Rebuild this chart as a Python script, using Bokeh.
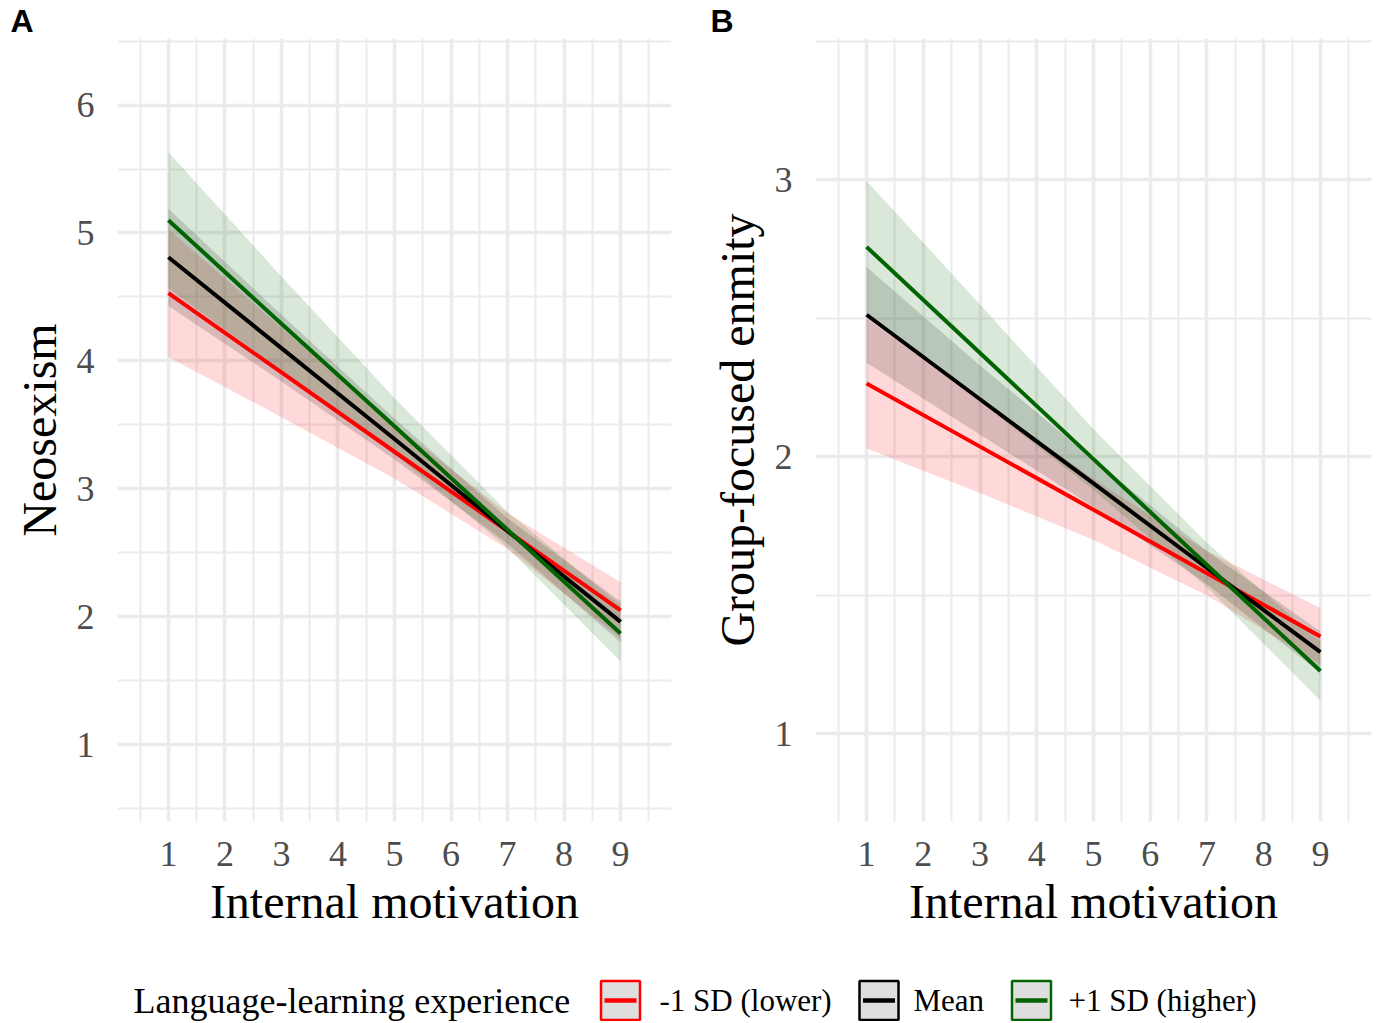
from bokeh.plotting import figure
from bokeh.models import Range1d, FixedTicker
from bokeh.layouts import column, row
from bokeh.embed import file_html
from bokeh.resources import INLINE
from bokeh.core.properties import value

# ---------------- data ----------------
x_pts = [1, 3, 5, 7, 9]
x_ticks = [1, 2, 3, 4, 5, 6, 7, 8, 9]
x_minor = [0.5, 1.5, 2.5, 3.5, 4.5, 5.5, 6.5, 7.5, 8.5, 9.5]

group_labels = ["-1 SD (lower)", "Mean", "+1 SD (higher)"]
group_colors = ["#FF0000", "#000000", "#006400"]
legend_title = "Language-learning experience"
x_title = "Internal motivation"

# Panel A: Neosexism
a_y_ticks = [1, 2, 3, 4, 5, 6]
a_y_minor = [0.5, 1.5, 2.5, 3.5, 4.5, 5.5, 6.5]
a_fit_low = [4.53, 3.91, 3.29, 2.67, 2.05]
a_lo_low = [4.03, 3.56, 3.08, 2.53, 1.83]
a_hi_low = [5.03, 4.26, 3.50, 2.81, 2.27]
a_fit_mean = [4.81, 4.10, 3.39, 2.67, 1.96]
a_lo_mean = [4.43, 3.84, 3.23, 2.57, 1.80]
a_hi_mean = [5.19, 4.36, 3.55, 2.77, 2.12]
a_fit_high = [5.10, 4.29, 3.49, 2.68, 1.87]
a_lo_high = [4.57, 3.92, 3.27, 2.54, 1.65]
a_hi_high = [5.63, 4.66, 3.71, 2.82, 2.09]

# Panel B: Group-focused enmity
b_y_ticks = [1, 2, 3]
b_y_minor = [0.5, 1.5, 2.5, 3.5]
b_fit_low = [2.265, 2.037, 1.809, 1.580, 1.352]
b_lo_low = [2.03, 1.87, 1.70, 1.50, 1.25]
b_hi_low = [2.50, 2.21, 1.92, 1.66, 1.455]
b_fit_mean = [2.513, 2.208, 1.904, 1.599, 1.295]
b_lo_mean = [2.34, 2.08, 1.82, 1.54, 1.22]
b_hi_mean = [2.685, 2.33, 1.99, 1.66, 1.37]
b_fit_high = [2.758, 2.375, 1.992, 1.610, 1.227]
b_lo_high = [2.52, 2.20, 1.88, 1.53, 1.12]
b_hi_high = [2.996, 2.55, 2.10, 1.69, 1.335]

SERIF = "Liberation Serif"
GRID = "#EBEBEB"
FIG_H = 953
B_BOT = 132
X_RANGE = (0.1, 9.9)


def make_panel(tag, ylab, yr, yticks, yminor, fits, los, his, width, bl, br, tag_left):
    p = figure(width=width, height=FIG_H, output_backend="svg", toolbar_location=None,
               x_range=Range1d(*X_RANGE), y_range=Range1d(*yr),
               min_border_left=bl, min_border_right=br, min_border_top=0,
               min_border_bottom=B_BOT, title=tag)
    # panel tag as a left-aligned title shifted into the left margin
    p.title.align = "left"
    p.title.offset = -(bl - tag_left)
    p.title.standoff = 0
    p.title.text_font = "Liberation Sans"
    p.title.text_font_style = "bold"
    p.title.text_font_size = "32px"
    p.title.text_color = "black"
    p.outline_line_color = None
    p.background_fill_color = "white"
    p.border_fill_color = "white"
    p.xaxis.ticker = FixedTicker(ticks=x_ticks, minor_ticks=x_minor)
    p.yaxis.ticker = FixedTicker(ticks=yticks, minor_ticks=yminor)
    for ax in (p.xaxis, p.yaxis):
        ax.axis_line_color = None
        ax.major_tick_line_color = None
        ax.minor_tick_line_color = None
        ax.major_tick_out = 0
        ax.major_tick_in = 0
        ax.minor_tick_out = 0
        ax.major_label_text_font = SERIF
        ax.major_label_text_font_size = "36px"
        ax.major_label_text_color = "#4D4D4D"
        ax.axis_label_text_font = SERIF
        ax.axis_label_text_font_size = "48px"
        ax.axis_label_text_font_style = "normal"
        ax.axis_label_text_color = "black"
    p.xaxis.axis_label = x_title
    p.yaxis.axis_label = ylab
    p.xaxis.major_label_standoff = 20
    p.xaxis.axis_label_standoff = 6
    p.yaxis.major_label_standoff = 23
    p.yaxis.axis_label_standoff = 8
    p.yaxis.major_label_orientation = "horizontal"
    for g in (p.xgrid, p.ygrid):
        g.grid_line_color = GRID
        g.grid_line_width = 3.5
        g.minor_grid_line_color = GRID
        g.minor_grid_line_width = 2
    for lo, hi, c in zip(los, his, group_colors):
        p.varea(x=x_pts, y1=lo, y2=hi, fill_color=c, fill_alpha=0.15)
    for f, c in zip(fits, group_colors):
        p.line(x=x_pts, y=f, line_color=c, line_width=4)
    return p


pA = make_panel("A", "Neosexism", (0.4, 6.52), a_y_ticks, a_y_minor,
                [a_fit_low, a_fit_mean, a_fit_high],
                [a_lo_low, a_lo_mean, a_lo_high],
                [a_hi_low, a_hi_mean, a_hi_high], 690, 117, 19, 10)
pB = make_panel("B", "Group-focused enmity", (0.684, 3.51), b_y_ticks, b_y_minor,
                [b_fit_low, b_fit_mean, b_fit_high],
                [b_lo_low, b_lo_mean, b_lo_high],
                [b_hi_low, b_hi_mean, b_hi_high], 686, 125, 5, 20)

# ---------------- legend strip ----------------
leg = figure(width=1376, height=68, output_backend="svg", toolbar_location=None,
             x_range=Range1d(0, 1376), y_range=Range1d(0, 68),
             min_border=0)
leg.axis.visible = False
leg.grid.visible = False
leg.outline_line_color = None
key_x = [620, 878.5, 1031]
label_x = [659, 913, 1068]
ky = 21
leg.text(x=[133], y=[ky], text=[legend_title], text_font=value(SERIF),
         text_font_size="36px", text_baseline="middle", text_color="black")
leg.rect(x=key_x, y=[ky] * 3, width=39, height=39, fill_color="#DEDEDE",
         line_color=group_colors, line_width=2.5)
leg.segment(x0=[k - 16 for k in key_x], y0=[ky] * 3, x1=[k + 16 for k in key_x],
            y1=[ky] * 3, line_color=group_colors, line_width=4.5)
leg.text(x=label_x, y=[ky] * 3, text=group_labels, text_font=value(SERIF),
         text_font_size="31px", text_baseline="middle", text_color="black")

layout = column(row(pA, pB), leg)
open("out.html", "w").write(file_html(layout, INLINE))
